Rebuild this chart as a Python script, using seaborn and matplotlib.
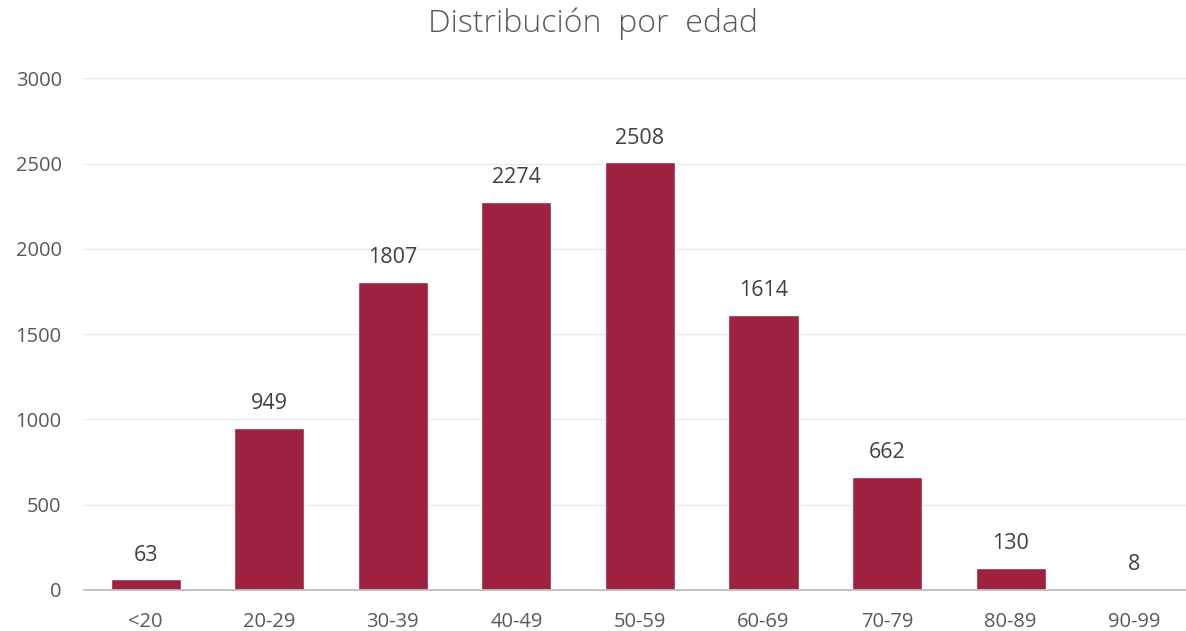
import matplotlib
matplotlib.use("Agg")
import matplotlib.pyplot as plt
import seaborn as sns
import pandas as pd

# Datos
grupos = ['<20', '20-29', '30-39', '40-49', '50-59', '60-69', '70-79', '80-89', '90-99']
casos = [63, 949, 1807, 2274, 2508, 1614, 662, 130, 8]

df = pd.DataFrame({'Edad': grupos, 'Casos': casos})

sns.set_style('white')
plt.rcParams['font.family'] = ['Open Sans', 'DejaVu Sans']

fig = plt.figure(figsize=(11.86, 6.31), dpi=100)
# el eje se extiende un poco más allá del borde derecho, como en el original
ax = fig.add_axes([0.0708, 0.065, 0.9376, 0.811])

sns.barplot(data=df, x='Edad', y='Casos', color='#9E2140', saturation=1,
            width=0.567, ax=ax)

# Etiquetas de datos
for i, v in enumerate(casos):
    ax.text(i, v + 80, str(v), ha='center', va='bottom', fontsize=15.5, color='#404040')

ax.set_ylim(0, 3000)
ax.set_yticks(range(0, 3001, 500))
ax.set_xlim(-0.5, len(grupos) - 0.5)
ax.yaxis.grid(True, color='#E8E8E8', linewidth=1)
ax.set_axisbelow(True)
for s in ['top', 'right', 'left']:
    ax.spines[s].set_visible(False)
ax.spines['bottom'].set_color('#BFBFBF')
ax.spines['bottom'].set_linewidth(1.3)
ax.tick_params(axis='both', length=0, labelsize=14.5, labelcolor='#595959')
ax.tick_params(axis='x', pad=16)
ax.tick_params(axis='y', pad=16)
ax.set_xlabel('')
ax.set_ylabel('')

fig.text(0.5, 0.962, 'Distribución  por  edad', ha='center', va='center',
         fontsize=23, color='#595959', fontweight='light')

fig.savefig('out.png', dpi=100)
